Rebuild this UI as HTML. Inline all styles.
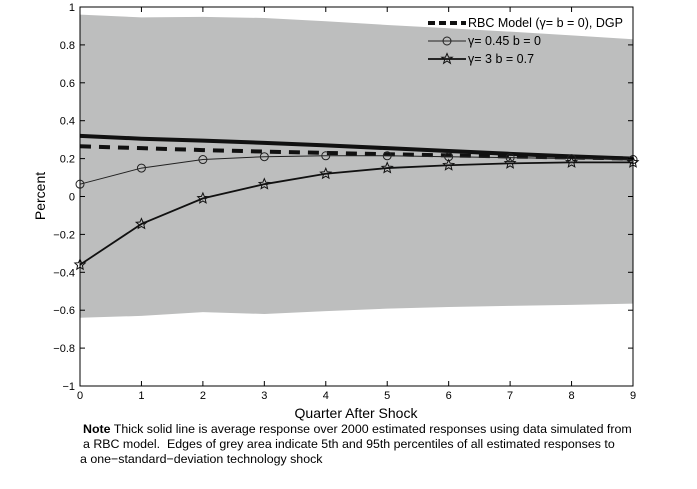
<!DOCTYPE html>
<html><head><meta charset="utf-8"><style>
body{margin:0;background:#fff;width:697px;height:484px;overflow:hidden}
svg{font-family:"Liberation Sans",Arial,sans-serif}
</style></head><body>
<svg id="c" width="697" height="484"></svg>
<script>
const quarters=[0,1,2,3,4,5,6,7,8,9];
const upperBand=[0.96,0.945,0.948,0.942,0.925,0.905,0.888,0.87,0.85,0.83];
const lowerBand=[-0.64,-0.63,-0.61,-0.62,-0.605,-0.592,-0.583,-0.577,-0.572,-0.565];
const avgResponse=[0.32,0.305,0.295,0.283,0.27,0.255,0.24,0.225,0.212,0.2];
const rbcDGP=[0.265,0.255,0.245,0.237,0.23,0.223,0.217,0.211,0.206,0.2];
const gamma045=[0.065,0.15,0.195,0.21,0.215,0.215,0.21,0.205,0.2,0.195];
const gamma3=[-0.36,-0.145,-0.01,0.065,0.12,0.15,0.165,0.175,0.18,0.18];
const yTicks=[1,0.8,0.6,0.4,0.2,0,-0.2,-0.4,-0.6,-0.8,-1];
const yTickLabels=["1","0.8","0.6","0.4","0.2","0","\u22120.2","\u22120.4","\u22120.6","\u22120.8","\u22121"];

const L=80,R=633,T=7,B=386;
const X=v=>L+(v-0)/9*(R-L);
const Y=v=>B-(v+1)/2*(B-T);
const svg=document.getElementById('c');
const NS='http://www.w3.org/2000/svg';
function mk(tag,attrs,parent){const e=document.createElementNS(NS,tag);for(const k in attrs)e.setAttribute(k,attrs[k]);(parent||svg).appendChild(e);return e;}

let pts=quarters.map((q,i)=>X(q)+','+Y(upperBand[i])).concat(quarters.slice().reverse().map((q,j)=>{const i=quarters.length-1-j;return X(q)+','+Y(lowerBand[i]);}));
const band=mk('polygon',{points:pts.join(' '),fill:'#bdbebe'});



function line(arr,attrs,name){const p=mk('polyline',Object.assign({points:quarters.map((q,i)=>X(q)+','+Y(arr[i])).join(' '),fill:'none'},attrs));return p;}
line(avgResponse,{stroke:'#111','stroke-width':4},'average-response-line');
line(rbcDGP,{stroke:'#111','stroke-width':4,'stroke-dasharray':'11,8'},'rbc-dgp-line');
line(gamma045,{stroke:'#222','stroke-width':1},'gamma-045-line');
line(gamma3,{stroke:'#111','stroke-width':1.8},'gamma-3-line');
function star(cx,cy,r){let s=[];for(let k=0;k<10;k++){const a=-Math.PI/2+k*Math.PI/5;const rr=k%2?r*0.45:r;s.push((cx+rr*Math.cos(a)).toFixed(1)+','+(cy+rr*Math.sin(a)).toFixed(1));}return s.join(' ');}
quarters.forEach((q,i)=>{
 const c=mk('circle',{cx:X(q),cy:Y(gamma045[i]),r:4,fill:'none',stroke:'#222','stroke-width':1});
 
 
 const s=mk('polygon',{points:star(X(q),Y(gamma3[i]),5.5),fill:'none',stroke:'#111','stroke-width':1});
 
 
});

const ax=mk('rect',{x:L,y:T,width:R-L,height:B-T,fill:'none',stroke:'#000','stroke-width':1});


yTicks.forEach((v,i)=>{
 mk('line',{x1:L,x2:L+5,y1:Y(v),y2:Y(v),stroke:'#000'});
 mk('line',{x1:R,x2:R-5,y1:Y(v),y2:Y(v),stroke:'#000'});
 const t=mk('text',{x:L-5,y:Y(v)+4,'text-anchor':'end','font-size':11});t.textContent=yTickLabels[i];
 
 
});
quarters.forEach(q=>{
 mk('line',{x1:X(q),x2:X(q),y1:B,y2:B-5,stroke:'#000'});
 mk('line',{x1:X(q),x2:X(q),y1:T,y2:T+5,stroke:'#000'});
 const t=mk('text',{x:X(q),y:B+13,'text-anchor':'middle','font-size':11});t.textContent=q;
 
 
});
</script>
<svg style="position:absolute;left:0;top:0" width="697" height="484">
<g font-size="12.5" font-family="Liberation Sans,Arial,sans-serif">
<line x1="428" x2="466" y1="23" y2="23" stroke="#111" stroke-width="4" stroke-dasharray="7,4"/>
<text x="468" y="27">RBC Model (γ= b = 0), DGP</text>
<line x1="428" x2="466" y1="41" y2="41" stroke="#222"/><circle cx="447" cy="41" r="4" fill="none" stroke="#222"/>
<text x="468" y="45">γ= 0.45 b = 0</text>
<line x1="428" x2="466" y1="59" y2="59" stroke="#111" stroke-width="1.8"/>
<polygon points="447,53.5 448.6,57.3 452.2,57.3 449.3,59.6 450.4,63.3 447,61 443.6,63.3 444.7,59.6 441.8,57.3 445.4,57.3" fill="none" stroke="#111"/>
<text x="468" y="63">γ= 3 b = 0.7</text>
</g>
<text x="45" y="196" transform="rotate(-90 45 196)" text-anchor="middle" font-size="14" font-family="Liberation Sans,Arial,sans-serif">Percent</text>
<text x="356" y="418" text-anchor="middle" font-size="14" font-family="Liberation Sans,Arial,sans-serif">Quarter After Shock</text>
<g font-size="12.4" font-family="Liberation Sans,Arial,sans-serif">
<text x="83" y="433"><tspan font-weight="bold">Note</tspan> Thick solid line is average response over 2000 estimated responses using data simulated from</text>
<text x="83" y="448" xml:space="preserve">a RBC model.  Edges of grey area indicate 5th and 95th percentiles of all estimated responses to</text>
<text x="80" y="463">a one−standard−deviation technology shock</text>
</g>
</svg>
</body></html>
